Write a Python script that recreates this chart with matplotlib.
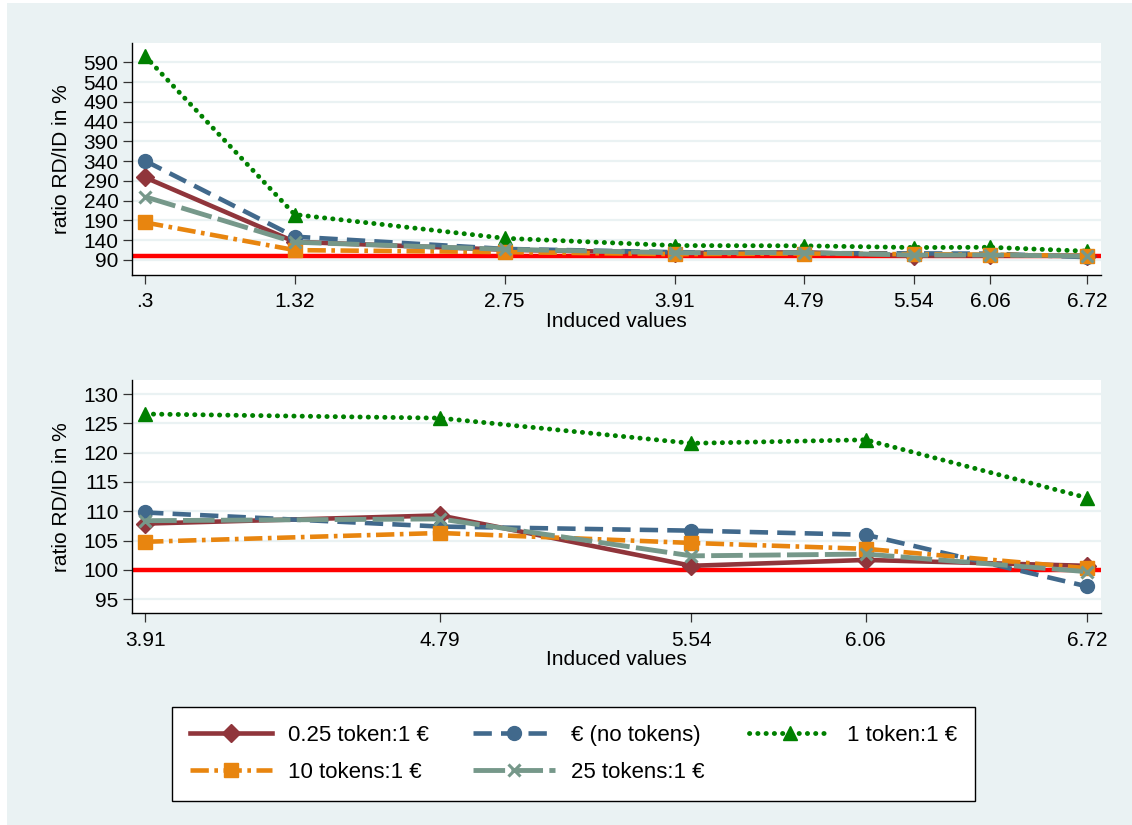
import matplotlib
matplotlib.use("Agg")
import matplotlib.pyplot as plt
from matplotlib.patches import Rectangle

plt.rcParams['font.family'] = ['Liberation Sans', 'DejaVu Sans']

# ---- data ----
induced = [0.3, 1.32, 2.75, 3.91, 4.79, 5.54, 6.06, 6.72]
induced_labels = [".3", "1.32", "2.75", "3.91", "4.79", "5.54", "6.06", "6.72"]
top_yticks = [90, 140, 190, 240, 290, 340, 390, 440, 490, 540, 590]
bottom_yticks = [95, 100, 105, 110, 115, 120, 125, 130]

series_names = ["0.25 token:1 €", "€ (no tokens)", "1 token:1 €", "10 tokens:1 €", "25 tokens:1 €"]
tok025 = [299, 136, 116, 107.9, 109.3, 100.7, 101.7, 100.7]
no_tokens = [341, 149, 118, 109.8, 107.4, 106.7, 106.0, 97.2]
tok1 = [606, 205, 145, 126.6, 125.9, 121.6, 122.2, 112.3]
tok10 = [185, 115, 110, 104.8, 106.3, 104.6, 103.6, 100.3]
tok25 = [250, 135, 117, 108.4, 108.7, 102.4, 102.7, 99.7]
reference_level = 100

# ---- styles ----
styles = [
    dict(color='#90353B', marker='D', ms=9.5, lw=3.3, ls='-'),
    dict(color='#41698C', marker='o', ms=10, lw=3.3, ls=(0, (4, 2))),
    dict(color='#008000', marker='^', ms=10.5, lw=3.5, ls=(0, (0.05, 1.65)), dash_capstyle='round'),
    dict(color='#E8850F', marker='s', ms=9.5, lw=3.3, ls=(0, (4, 1.2, 0.8, 1.2))),
    dict(color='#76988A', marker='x', ms=8, mew=2.2, lw=3.5, ls=(0, (6.5, 1.3))),
]
data = [tok025, no_tokens, tok1, tok10, tok25]

W, H = 1132, 825
fig = plt.figure(figsize=(W / 100, H / 100), dpi=100, facecolor='white')
fig.patches.append(Rectangle((7 / W, 0), 1 - 7 / W, 1 - 3 / H, transform=fig.transFigure,
                             facecolor='#EAF2F3', edgecolor='none', zorder=-5))

left = 131.7 / W
width = 969 / W
ax1 = fig.add_axes([left, (H - 275) / H, width, 232.3 / H])
ax2 = fig.add_axes([left, (H - 613.3) / H, width, 233.3 / H])

FS = 15


def style_axes(ax, xvals, xlabels, yticks, ylim, xlim):
    ax.set_facecolor('white')
    for s in ['top', 'right']:
        ax.spines[s].set_visible(False)
    for s in ['left', 'bottom']:
        ax.spines[s].set_color('black')
        ax.spines[s].set_linewidth(1.0)
    ax.set_xlim(*xlim)
    ax.set_ylim(*ylim)
    ax.set_xticks(xvals)
    ax.set_xticklabels(xlabels)
    ax.set_yticks(yticks)
    ax.tick_params(axis='both', direction='out', length=6.5, width=0.9, color='#333333',
                   labelsize=FS, labelcolor='black')
    ax.tick_params(axis='y', pad=3)
    ax.tick_params(axis='x', pad=6)
    ax.grid(axis='y', color='#EAF2F3', lw=1.6, zorder=0)
    ax.grid(axis='x', visible=False)
    ax.set_axisbelow(True)
    ax.set_ylabel("ratio RD/ID in %", fontsize=FS)
    ax.yaxis.set_label_coords(-0.072, 0.5)
    ax.yaxis.label.set_va('center')
    ax.set_xlabel("Induced values", fontsize=FS)
    ax.xaxis.set_label_coords(0.5, -0.2)
    ax.xaxis.label.set_va('center')
    ax.axhline(reference_level, color='#FF0000', lw=3.2, zorder=1.5)


style_axes(ax1, induced, induced_labels, top_yticks, (52, 640), (0.209, 6.813))
style_axes(ax2, induced[3:], induced_labels[3:], bottom_yticks, (92.6, 132.4), (3.870, 6.761))

handles = []
for name, vals, st in zip(series_names, data, styles):
    h, = ax1.plot(induced, vals, label=name, zorder=3, **st)
    ax2.plot(induced[3:], vals[3:], zorder=3, **st)
    handles.append(h)

order = [0, 3, 1, 4, 2]
leg = fig.legend([handles[i] for i in order], [series_names[i] for i in order],
                 loc='center', bbox_to_anchor=(573.5 / W, (H - 754) / H), ncol=3,
                 fontsize=16, frameon=True, fancybox=False, edgecolor='black', framealpha=1,
                 handlelength=3.7, handletextpad=0.7, columnspacing=2.0,
                 labelspacing=0.7, borderpad=0.8, numpoints=1)
leg.get_frame().set_linewidth(1.0)
leg.get_frame().set_facecolor('white')

fig.savefig("out.png", dpi=100, facecolor=fig.get_facecolor())
